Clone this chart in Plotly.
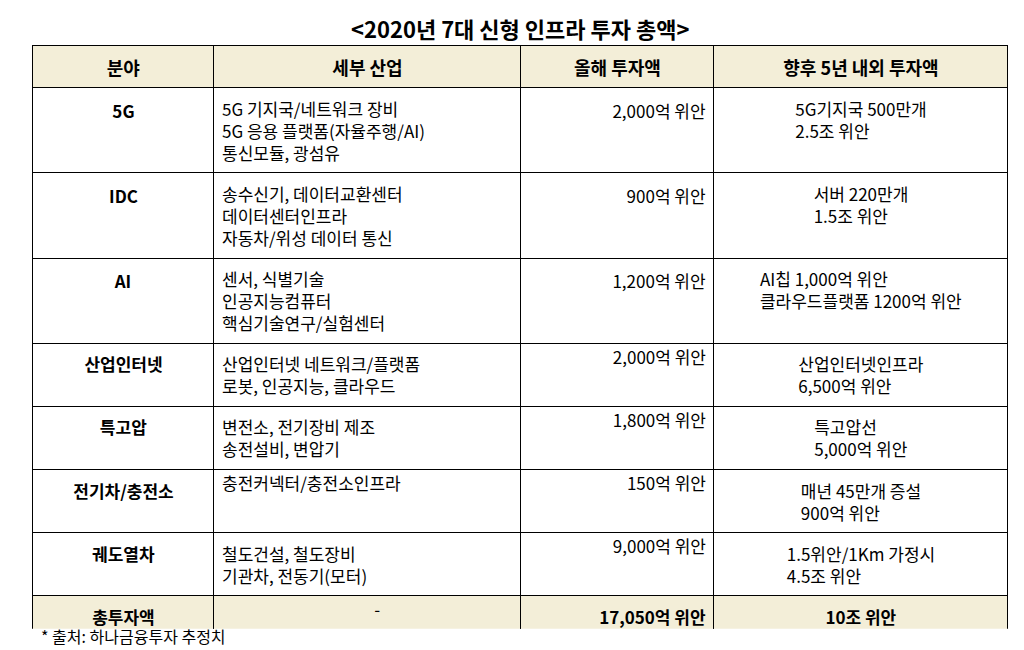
import plotly.graph_objects as go

title = "<2020년 7대 신형 인프라 투자 총액>"
headers = ["분야", "세부 산업", "올해 투자액", "향후 5년 내외 투자액"]
sectors = ["<br>5G", "<br>IDC", "<br>AI", "산업인터넷", "특고압", "전기차/충전소", "궤도열차", "총투자액"]
details = [
    "5G 기지국/네트워크 장비<br>5G 응용 플랫폼(자율주행/AI)<br>통신모듈, 광섬유",
    "송수신기, 데이터교환센터<br>데이터센터인프라<br>자동차/위성 데이터 통신",
    "센서, 식별기술<br>인공지능컴퓨터<br>핵심기술연구/실험센터",
    "산업인터넷 네트워크/플랫폼<br>로봇, 인공지능, 클라우드",
    "변전소, 전기장비 제조<br>송전설비, 변압기",
    "충전커넥터/충전소인프라",
    "철도건설, 철도장비<br>기관차, 전동기(모터)",
    "                                        -",
]
this_year = ["<br>2,000억 위안", "<br>900억 위안", "<br>1,200억 위안", "2,000억 위안",
             "1,800억 위안", "150억 위안", "9,000억 위안", "<b>17,050억 위안</b>"]
five_year = ["5G기지국 500만개<br>2.5조 위안", "서버 220만개<br>1.5조 위안",
             "AI칩 1,000억 위안<br>클라우드플랫폼 1200억 위안", "산업인터넷인프라<br>6,500억 위안",
             "특고압선<br>5,000억 위안", "매년 45만개 증설<br>900억 위안",
             "1.5위안/1Km 가정시<br>4.5조 위안", "<b>10조 위안</b>"]

beige = "#F3EED8"
fills = ["white"] * 7 + [beige]

fig = go.Figure(go.Table(
    columnwidth=[181, 307, 193, 294],
    header=dict(values=[f"<b>{h}</b>" for h in headers], fill_color=beige,
                line=dict(color="black", width=1), align="center",
                font=dict(family="Noto Sans CJK KR", size=18, color="black"), height=36),
    cells=dict(values=[[f"<b>{s}</b>" for s in sectors], details, this_year, five_year],
               fill_color=[fills] * 4, line=dict(color="black", width=1),
               align=["center", "left", "right", "center"],
               font=dict(family="Noto Sans CJK KR", size=17, color="black"), height=36),
    domain=dict(x=[0.0244, 0.977], y=[0.03, 0.953]),
))
fig.add_annotation(text=f"<b>{title.replace('<', '&lt;').replace('>', '&gt;')}</b>", x=0.5, y=0.981,
                   xref="paper", yref="paper", showarrow=False, yanchor="middle",
                   font=dict(family="Noto Sans CJK KR", size=22, color="black"))
fig.add_annotation(text="* 출처: 하나금융투자 추정치", x=0.03, y=0.019, xref="paper", yref="paper",
                   xanchor="left", yanchor="middle", showarrow=False,
                   font=dict(family="Noto Sans CJK KR", size=16, color="black"))
fig.update_layout(width=1024, height=650, margin=dict(l=0, r=0, t=8, b=10),
                  paper_bgcolor="white")
fig.write_html("out.html")
